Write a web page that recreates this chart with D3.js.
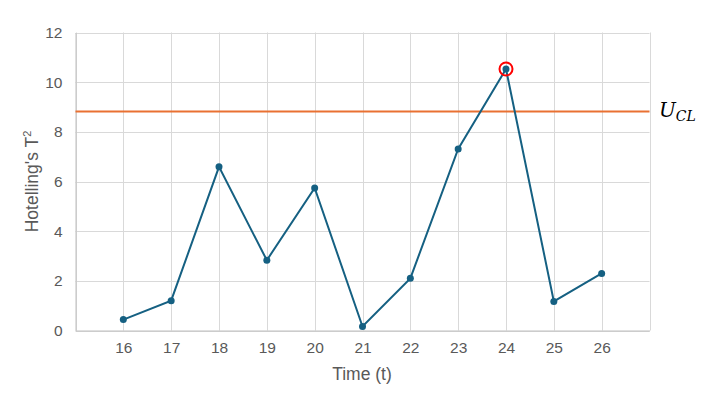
<!DOCTYPE html>
<html>
<head>
<meta charset="utf-8">
<script src="https://cdn.jsdelivr.net/npm/d3@7"></script>
<style>
  body { margin: 0; background: #fff; }
  svg { display: block; }
  svg text { font-family: "Liberation Sans", Arial, sans-serif; }
</style>
</head>
<body>
<svg width="710" height="396"></svg>
<script>
let times = [16, 17, 18, 19, 20, 21, 22, 23, 24, 25, 26]
let tSquared = [0.44, 1.2, 6.59, 2.83, 5.74, 0.16, 2.1, 7.31, 10.53, 1.17, 2.3]
let ucl = 8.82
let outlierTime = 24
let yTicks = [0, 2, 4, 6, 8, 10, 12]
let xGrid = [15, 16, 17, 18, 19, 20, 21, 22, 23, 24, 25, 26, 27]

let width = 710
let height = 396
let plotLeft = 75.5
let plotRight = 649.5
let plotTop = 32.5
let plotBottom = 330.5

let svg = d3.select('svg')

let xScale = d3.scaleLinear().domain([15, 27]).range([plotLeft, plotRight])
let yScale = d3.scaleLinear().domain([0, 12]).range([plotBottom, plotTop])

// grid
svg.append('g')
    .selectAll('line')
    .data(yTicks)
    .enter()
    .append('line')
    .attr('x1', plotLeft).attr('x2', plotRight)
    .attr('y1', d => Math.round(yScale(d)) + 0.5)
    .attr('y2', d => Math.round(yScale(d)) + 0.5)
    .attr('stroke', '#d9d9d9')

svg.append('g')
    .selectAll('line')
    .data(xGrid)
    .enter()
    .append('line')
    .attr('x1', d => Math.round(xScale(d)) + 0.5)
    .attr('x2', d => Math.round(xScale(d)) + 0.5)
    .attr('y1', plotTop).attr('y2', plotBottom)
    .attr('stroke', '#d9d9d9')

// axes
let yAxis = d3.axisLeft(yScale).tickValues(yTicks).tickSize(0).tickPadding(13)
let yG = svg.append('g')
    .attr('transform', 'translate(' + plotLeft + ',0)')
    .call(yAxis)
yG.select('.domain').attr('stroke', '#bfbfbf')
yG.selectAll('text').attr('fill', '#595959').style('font-size', '15.5px')

let xAxis = d3.axisBottom(xScale).tickValues(times).tickSize(0).tickPadding(11)
let xG = svg.append('g')
    .attr('transform', 'translate(0,' + plotBottom + ')')
    .call(xAxis)
xG.select('.domain').attr('stroke', '#bfbfbf')
xG.selectAll('text').attr('fill', '#595959').style('font-size', '15.5px')

// UCL line
svg.append('line')
    .attr('x1', plotLeft).attr('x2', plotRight)
    .attr('y1', yScale(ucl)).attr('y2', yScale(ucl))
    .attr('stroke', '#e97132')
    .attr('stroke-width', 2)

let uclText = svg.append('text')
    .attr('x', 659)
    .attr('y', yScale(ucl) + 6)
    .attr('fill', '#000')
    .style('font-family', '"DejaVu Serif", "Liberation Serif", serif')
    .style('font-style', 'italic')
    .style('font-size', '20px')
uclText.append('tspan').text('U')
uclText.append('tspan').attr('dy', 4).style('font-size', '14px').text('CL')

// series
let points = times.map((t, i) => ({ t: t, v: tSquared[i] }))

let line = d3.line().x(d => xScale(d.t)).y(d => yScale(d.v))

svg.append('path')
    .datum(points)
    .attr('d', line)
    .attr('fill', 'none')
    .attr('stroke', '#156082')
    .attr('stroke-width', 2)

svg.selectAll('circle.dot')
    .data(points)
    .enter()
    .append('circle')
    .attr('class', 'dot')
    .attr('cx', d => xScale(d.t))
    .attr('cy', d => yScale(d.v))
    .attr('r', 3.5)
    .attr('fill', '#156082')

// highlight the point over the limit
let outlier = points.find(d => d.t === outlierTime)
svg.append('circle')
    .attr('cx', xScale(outlier.t))
    .attr('cy', yScale(outlier.v))
    .attr('r', 6.5)
    .attr('fill', 'none')
    .attr('stroke', '#ff0000')
    .attr('stroke-width', 2)

// axis titles
svg.append('text')
    .attr('x', 362)
    .attr('y', 380)
    .attr('text-anchor', 'middle')
    .attr('fill', '#595959')
    .style('font-size', '17.5px')
    .text('Time (t)')

let yTitle = svg.append('text')
    .attr('transform', 'translate(38,' + ((plotTop + plotBottom) / 2) + ') rotate(-90)')
    .attr('text-anchor', 'middle')
    .attr('fill', '#595959')
    .style('font-size', '17.5px')
yTitle.append('tspan').text("Hotelling's T")
yTitle.append('tspan').attr('dy', -7).style('font-size', '11px').text('2')
</script>
</body>
</html>
